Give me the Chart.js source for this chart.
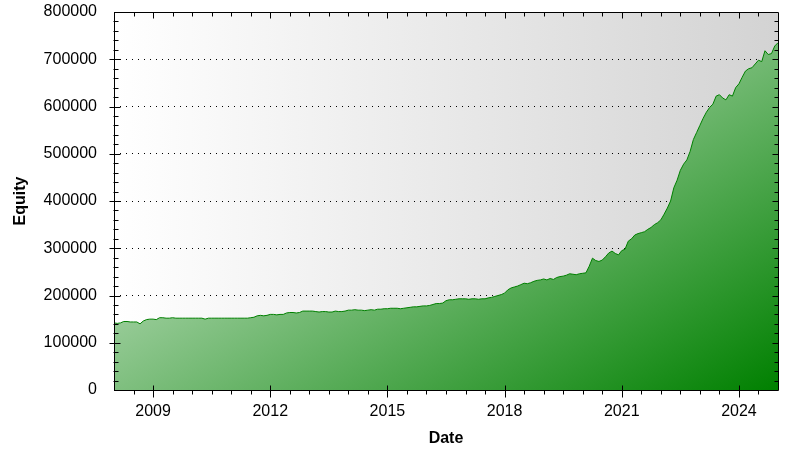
<!DOCTYPE html>
<html>
<head>
<meta charset="utf-8">
<script src="https://cdn.jsdelivr.net/npm/chart.js@4.4.0/dist/chart.umd.min.js"></script>
<style>
  html, body { margin: 0; padding: 0; background: #fff; }
  canvas { display: block; }
</style>
</head>
<body>
<canvas id="equityChart" width="812" height="462"></canvas>
<script>
// monthly equity from Jan 2008, one row per year, last value = Jan 2025
const startYear = 2008
const equity = [
  142000, 141000, 142000, 145000, 145000, 144000, 144000, 144000, 140000, 146000, 149000, 150000,
  150000, 149000, 153000, 153000, 152000, 152000, 153000, 152000, 152000, 152000, 152000, 152000,
  152000, 152000, 152000, 152000, 150000, 152000, 152000, 152000, 152000, 152000, 152000, 152000,
  152000, 152000, 152000, 152000, 152000, 152000, 153000, 154000, 157000, 158000, 157000, 158000,
  160000, 160000, 159000, 160000, 160000, 163000, 164000, 164000, 163000, 164000, 167000, 167000,
  167000, 167000, 166000, 165000, 166000, 166000, 165000, 165000, 167000, 166000, 166000, 167000,
  169000, 169000, 170000, 169000, 169000, 168000, 169000, 170000, 169000, 171000, 171000, 172000,
  172000, 173000, 173000, 173000, 172000, 173000, 174000, 175000, 176000, 176000, 177000, 178000,
  178000, 179000, 181000, 183000, 183000, 184000, 189000, 191000, 191000, 192000, 193000, 193000,
  193000, 192000, 193000, 193000, 192000, 193000, 193000, 195000, 196000, 198000, 200000, 202000,
  205000, 212000, 216000, 218000, 220000, 223000, 226000, 225000, 227000, 230000, 232000, 233000,
  235000, 233000, 236000, 234000, 238000, 240000, 241000, 243000, 246000, 245000, 244000, 246000,
  247000, 248000, 262000, 279000, 274000, 272000, 275000, 282000, 290000, 294000, 289000, 286000,
  295000, 298000, 315000, 320000, 328000, 331000, 333000, 335000, 340000, 344000, 350000, 354000,
  360000, 372000, 385000, 400000, 428000, 444000, 465000, 478000, 487000, 505000, 530000, 545000,
  560000, 575000, 588000, 598000, 605000, 622000, 625000, 618000, 614000, 625000, 622000, 640000,
  648000, 662000, 675000, 680000, 682000, 690000, 698000, 695000, 718000, 710000, 712000, 728000,
  735000
]

const xMin = 2008
const xMax = 2025
const xTicks = [2009, 2012, 2015, 2018, 2021, 2024]
const yTicks = [0, 100000, 200000, 300000, 400000, 500000, 600000, 700000, 800000]

const points = equity.map((v, i) => ({ x: startYear + i / 12, y: v }))

// gray background behind the plot
const plotBackground = {
  id: 'plotBackground',
  beforeDraw(chart) {
    const { ctx, chartArea: a } = chart
    const g = ctx.createLinearGradient(a.left, 0, a.right, 0)
    g.addColorStop(0, '#ffffff')
    g.addColorStop(1, '#d3d3d3')
    ctx.save()
    ctx.fillStyle = g
    ctx.fillRect(a.left, a.top, a.right - a.left, a.bottom - a.top)
    ctx.restore()
  }
}

// frame + major/minor tick marks on all four sides
const frameTicks = {
  id: 'frameTicks',
  afterDraw(chart) {
    const { ctx, chartArea: a, scales: { x, y } } = chart
    const L = Math.round(a.left) + 0.5
    const R = Math.round(a.right) + 0.5
    const T = Math.round(a.top) + 0.5
    const B = Math.round(a.bottom) + 0.5
    ctx.save()
    ctx.strokeStyle = '#000'
    ctx.lineWidth = 1
    ctx.beginPath()
    ctx.rect(L, T, R - L, B - T)

    for (let yr = xMin + 0.5; yr < xMax; yr += 0.5) {
      const px = Math.round(x.getPixelForValue(yr)) + 0.5
      const major = xTicks.includes(yr)
      ctx.moveTo(px, major ? B - 5 : B)
      ctx.lineTo(px, major ? B + 7 : B + 4)
      ctx.moveTo(px, T)
      ctx.lineTo(px, major ? T + 6 : T + 4)
    }
    for (let v = 20000; v < 800000; v += 20000) {
      const py = Math.round(y.getPixelForValue(v)) + 0.5
      const major = yTicks.includes(v)
      ctx.moveTo(major ? L - 5 : L - 1, py)
      ctx.lineTo(major ? L + 6 : L + 4, py)
      ctx.moveTo(R, py)
      ctx.lineTo(major ? R - 6 : R - 4, py)
    }
    ctx.stroke()
    ctx.restore()
  }
}

Chart.defaults.font.family = 'Arial, "Liberation Sans", sans-serif'
Chart.defaults.font.size = 16
Chart.defaults.color = '#000'

const ctx = document.getElementById('equityChart')
new Chart(ctx, {
  type: 'line',
  data: {
    datasets: [{
      label: 'Equity',
      data: points,
      borderColor: '#008000',
      borderWidth: 1,
      pointRadius: 0,
      tension: 0,
      fill: 'origin',
      backgroundColor: (c) => {
        const a = c.chart.chartArea
        if (!a) return '#80c080'
        const w = a.right - a.left, h = a.bottom - a.top
        // lines of equal colour run parallel to the other diagonal
        const k = 2 * w * h / (w * w + h * h)
        const g = c.chart.ctx.createLinearGradient(a.left, a.top, a.left + k * h, a.top + k * w)
        g.addColorStop(0, '#ffffff')
        g.addColorStop(1, '#008000')
        return g
      }
    }]
  },
  options: {
    responsive: false,
    animation: false,
    layout: { padding: { top: 12, right: 34, left: 0, bottom: 0 } },
    plugins: {
      legend: { display: false },
      tooltip: { enabled: false }
    },
    scales: {
      x: {
        type: 'linear',
        min: xMin,
        max: xMax,
        afterFit: (s) => { s.height = 72; s.paddingLeft = 0; s.paddingRight = 0 },
        afterBuildTicks: (s) => { s.ticks = xTicks.map(v => ({ value: v })) },
        grid: { display: false, drawTicks: false },
        border: { display: false },
        ticks: { padding: 12, maxRotation: 0, autoSkip: false, callback: (v) => String(v) },
        title: { display: true, text: 'Date', font: { size: 16, weight: 'bold' }, padding: { top: 0, bottom: 14 } }
      },
      y: {
        min: 0,
        max: 800000,
        afterFit: (s) => { s.width = 114; s.paddingTop = 0; s.paddingBottom = 0 },
        afterBuildTicks: (s) => { s.ticks = yTicks.map(v => ({ value: v })) },
        grid: { color: '#000', lineWidth: 1, drawTicks: false, tickLength: 0 },
        border: { display: false, dash: [1, 5] },
        ticks: { padding: 17, callback: (v) => String(v) },
        title: { display: true, text: 'Equity', font: { size: 16, weight: 'bold' }, padding: { top: 11, bottom: 0 } }
      }
    }
  },
  plugins: [plotBackground, frameTicks]
})
</script>
</body>
</html>
